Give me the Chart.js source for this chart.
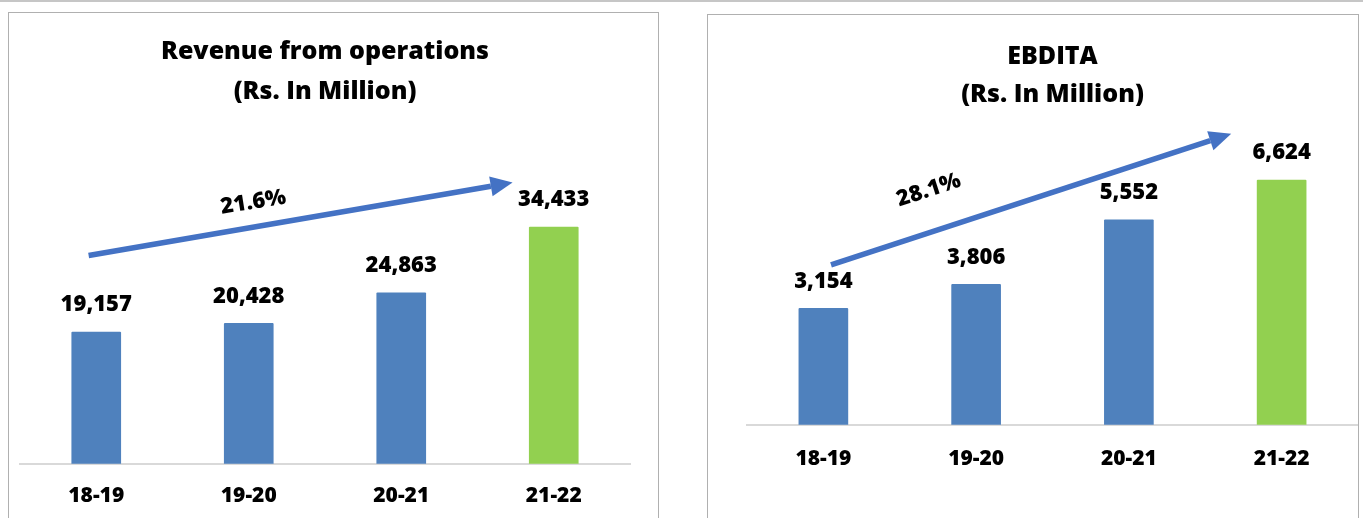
<!DOCTYPE html>
<html lang="en">
<head>
<meta charset="UTF-8" />
<title>Revenue from operations and EBDITA</title>
<script src="https://cdn.jsdelivr.net/npm/chart.js@4.4.1/dist/chart.umd.min.js"></script>
<style>
  html, body { margin: 0; padding: 0; background: #fff; overflow: hidden; }
  body { width: 1363px; height: 518px; position: relative; }
  .rule { position: absolute; left: 0; top: 0; width: 1363px; height: 2px; background: #c6c6c6; }
  .panel { position: absolute; border: 1px solid #b0b0b0; background: #fff; }
  #revPanel { left: 8px; top: 12px; width: 649px; height: 530px; }
  #ebdPanel { left: 707px; top: 14px; width: 650px; height: 530px; }
  .panel canvas { position: absolute; left: 0; top: 0; }
</style>
</head>
<body>
  <div class="rule"></div>
  <div class="panel" id="revPanel"><canvas id="revChart" width="649" height="526"></canvas></div>
  <div class="panel" id="ebdPanel"><canvas id="ebdChart" width="650" height="525"></canvas></div>
<script>
// financial years on the x axis
const years = ['18-19', '19-20', '20-21', '21-22'];
// Rs. in million
const revenue = [19157, 20428, 24863, 34433];
const ebdita = [3154, 3806, 5552, 6624];
// growth rates written along the trend arrows
const revenueCagr = '21.6%';
const ebditaCagr = '28.1%';

const BLUE = '#4F81BD';
const GREEN = '#92D050';
const ARROW = '#4472C4';
const FONT = '"Open Sans", "Noto Sans", sans-serif';
const WEIGHT = 800;

const barColors = years.map((_, i) => (i === years.length - 1 ? GREEN : BLUE));
const fmt = (v) => v.toLocaleString('en-US');

// numbers printed above each bar
const valueLabels = {
  id: 'valueLabels',
  afterDatasetsDraw(chart) {
    const { ctx } = chart;
    const values = chart.data.datasets[0].data;
    ctx.save();
    ctx.font = `${WEIGHT} 22px ${FONT}`;
    ctx.fillStyle = '#000';
    ctx.textAlign = 'center';
    ctx.textBaseline = 'middle';
    chart.getDatasetMeta(0).data.forEach((bar, i) => {
      ctx.fillText(fmt(values[i]), bar.x, bar.y - 27);
    });
    ctx.restore();
  },
};

// growth arrow, placed in category index / value units
const trendArrow = {
  id: 'trendArrow',
  afterDatasetsDraw(chart, args, opts) {
    if (!opts.from) return;
    const { ctx, scales: { x, y } } = chart;
    const px = (p) => [x.getPixelForValue(p[0]), y.getPixelForValue(p[1])];
    const [x0, y0] = px(opts.from);
    const [x1, y1] = px(opts.to);
    const ang = Math.atan2(y1 - y0, x1 - x0);
    const head = 22;
    const half = 10;
    const bx = x1 - head * Math.cos(ang);
    const by = y1 - head * Math.sin(ang);

    ctx.save();
    ctx.strokeStyle = ARROW;
    ctx.fillStyle = ARROW;
    ctx.lineWidth = 5.5;
    ctx.beginPath();
    ctx.moveTo(x0, y0);
    ctx.lineTo(bx, by);
    ctx.stroke();
    ctx.beginPath();
    ctx.moveTo(x1, y1);
    ctx.lineTo(bx + half * Math.sin(ang), by - half * Math.cos(ang));
    ctx.lineTo(bx - half * Math.sin(ang), by + half * Math.cos(ang));
    ctx.closePath();
    ctx.fill();

    const [lx, ly] = px(opts.labelAt);
    ctx.translate(lx, ly);
    ctx.rotate(opts.labelAngle * Math.PI / 180);
    ctx.font = `${WEIGHT} 22px ${FONT}`;
    ctx.fillStyle = '#000';
    ctx.textAlign = 'center';
    ctx.textBaseline = 'middle';
    ctx.fillText(opts.label, 0, 0);
    ctx.restore();
  },
};

function makeChart(id, cfg) {
  return new Chart(document.getElementById(id), {
    type: 'bar',
    data: {
      labels: years,
      datasets: [{
        data: cfg.values,
        backgroundColor: barColors,
        barThickness: 49,
        borderRadius: 1,
      }],
    },
    options: {
      responsive: false,
      animation: false,
      layout: { padding: cfg.padding },
      plugins: {
        legend: { display: false },
        tooltip: { enabled: false },
        title: {
          display: true,
          text: cfg.title,
          color: '#000',
          font: { family: FONT, size: 25, weight: WEIGHT, lineHeight: cfg.titleLine },
          padding: cfg.titlePadding,
        },
        trendArrow: cfg.trend,
      },
      scales: {
        x: {
          grid: { display: false, drawTicks: false },
          border: { display: true, color: '#d9d9d9', width: 2 },
          ticks: { color: '#000', padding: cfg.tickPad, font: { family: FONT, size: 21, weight: WEIGHT } },
        },
        y: { display: false, min: 0, max: cfg.max },
      },
    },
    plugins: [valueLabels, trendArrow],
  });
}

makeChart('revChart', {
  values: revenue,
  title: ['Revenue from operations', '(Rs. In Million)'],
  titleLine: '40px',
  titlePadding: { top: 19, bottom: 8 },
  padding: { left: 11, right: 28, top: 0, bottom: 10 },
  tickPad: 20,
  max: 50000,
  trend: { from: [-0.05, 30300], to: [2.73, 40900], label: revenueCagr, labelAt: [1.03, 38000], labelAngle: -9 },
});

makeChart('ebdChart', {
  values: ebdita,
  title: ['EBDITA', '(Rs. In Million)'],
  titleLine: '38px',
  titlePadding: { top: 23, bottom: 8 },
  padding: { left: 39, right: 0, top: 0, bottom: 46 },
  tickPad: 22,
  max: 8200,
  trend: { from: [0.05, 4330], to: [2.67, 7880], label: ebditaCagr, labelAt: [0.69, 6350], labelAngle: -18 },
});
</script>
</body>
</html>
